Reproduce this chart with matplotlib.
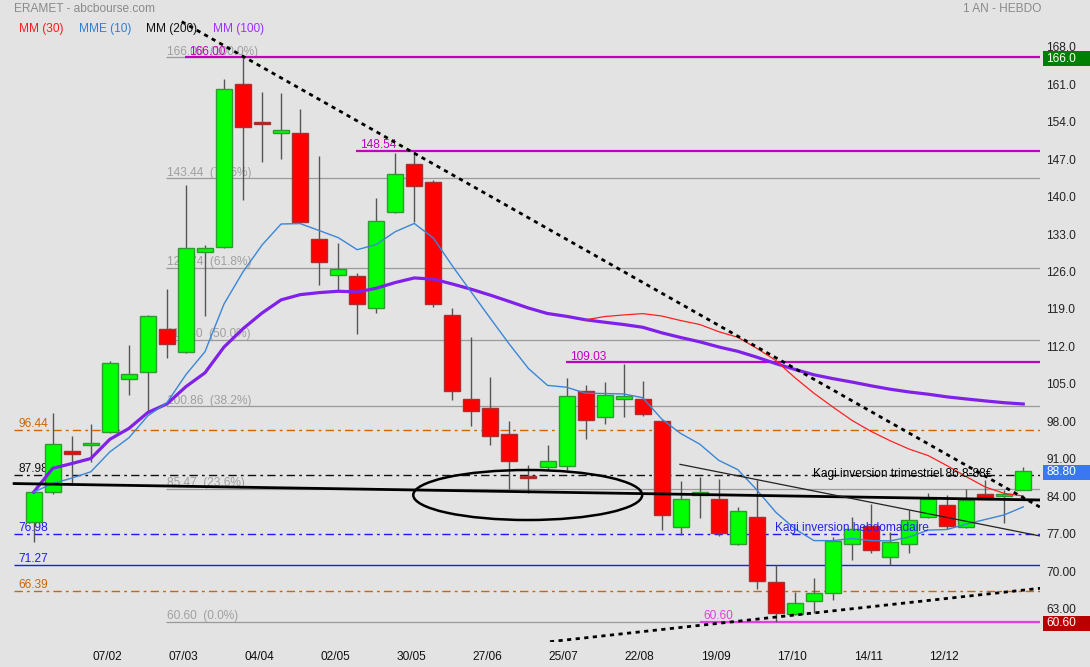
import numpy as np
import pandas as pd
import matplotlib
matplotlib.use('Agg')
import matplotlib.pyplot as plt
from matplotlib.patches import Ellipse, Rectangle
import matplotlib.transforms as mtransforms

plt.rcParams['font.family'] = ['Liberation Sans', 'DejaVu Sans']

# weekly candles, 10/01/2022 -> 09/01/2023
opens = [79.3, 84.9, 92.5, 93.6, 96.1, 106.0, 107.3, 115.3, 111.0, 129.6, 130.6, 161.1, 154.0,
         151.8, 151.8, 132.0, 125.3, 125.1, 119.1, 137.2, 146.0, 142.7, 117.8, 102.1, 100.5, 95.6,
         87.9, 89.4, 89.7, 103.6, 98.8, 102.1, 102.1, 98.1, 78.2, 84.3, 83.6, 75.2, 80.1, 68.1,
         62.0, 64.5, 65.9, 75.2, 78.5, 72.6, 75.2, 80.1, 82.4, 78.2, 84.4, 84.1, 85.2]
closes = [84.8, 93.7, 91.9, 93.9, 109.0, 106.8, 117.6, 112.5, 130.3, 130.3, 160.0, 153.0, 153.5,
          152.5, 135.3, 127.8, 126.4, 119.9, 135.4, 144.2, 141.9, 120.0, 103.6, 100.0, 95.2, 90.7,
          87.5, 90.6, 102.8, 98.3, 102.9, 102.8, 99.3, 80.5, 83.6, 84.8, 77.1, 81.2, 68.2, 62.2,
          64.0, 65.9, 75.7, 78.0, 73.9, 75.5, 79.6, 83.5, 78.4, 83.3, 83.6, 84.4, 88.8]
highs = [85.0, 99.5, 95.2, 97.6, 109.2, 112.3, 117.8, 122.7, 142.2, 131.0, 161.9, 166.0, 159.5,
         159.3, 156.3, 147.6, 131.3, 125.7, 139.7, 148.1, 148.54, 143.1, 119.1, 113.7, 106.3, 98.0,
         89.9, 93.6, 106.1, 104.8, 105.3, 108.7, 105.6, 98.3, 86.9, 87.6, 87.3, 82.0, 87.1, 71.1,
         66.2, 68.7, 76.4, 80.2, 82.6, 77.4, 81.5, 84.7, 84.3, 85.3, 87.1, 85.2, 89.4]
lows = [75.5, 84.5, 86.1, 90.5, 95.8, 102.9, 99.5, 109.9, 110.8, 117.7, 130.4, 139.4, 146.5,
        147.0, 135.1, 123.5, 122.6, 114.3, 118.2, 137.0, 135.2, 119.4, 102.0, 97.2, 93.6, 85.3,
        84.6, 88.9, 88.9, 94.8, 97.5, 98.9, 99.1, 77.7, 76.8, 80.0, 76.6, 75.0, 66.7, 60.6,
        61.9, 62.2, 64.7, 72.1, 73.4, 71.2, 73.4, 80.0, 77.9, 78.1, 83.5, 79.1, 85.2]

tick_labels = ['07/02', '07/03', '04/04', '02/05', '30/05', '27/06', '25/07', '22/08',
               '19/09', '17/10', '14/11', '12/12']
price_ticks = [168, 161, 154, 147, 140, 133, 126, 119, 112, 105, 98, 91, 84, 77, 70, 63]

# fibonacci retracement
fib_levels = [166.00, 143.44, 126.74, 113.30, 100.86, 85.47, 60.60]
fib_pcts = ['100.0%', '78.6%', '61.8%', '50.0%', '38.2%', '23.6%', '0.0%']

# support / resistance levels drawn on the chart
sr_levels = [96.44, 87.98, 76.98, 71.27, 66.39]
sr_colors = ['#cc6600', '#111111', '#1a1aff', '#1a1aff', '#cc6600']
sr_dashed = [True, True, True, False, True]

top_levels = [166.00, 148.54, 109.03, 60.60]
top_start = [7.95, 16.95, 27.97, 35.0]
top_colors = ['#c000c0', '#c000c0', '#c000c0', '#e040e0']

# hand drawn trendlines (week index, price)
trend_thick = ([-1.03, 52.88], [86.40, 83.33])
trend_thin = ([33.96, 52.88], [89.99, 76.61])
trend_down = ([7.78, 52.88], [172.65, 82.0])
trend_up = ([27.13, 52.88], [56.87, 66.84])

last_close = 88.80

n = len(closes)
x = np.arange(n)
s = pd.Series(closes)
mm30 = s.rolling(30).mean()
mme10 = s.ewm(span=10, adjust=False).mean()
mm100 = s.expanding().mean()

bg = '#e3e3e3'
fig = plt.figure(figsize=(10.9, 6.67), dpi=100, facecolor=bg)
ax = fig.add_axes([0, 25 / 667, 1040 / 1090, 642 / 667], facecolor=bg)
ax.set_xlim(-1.771, 52.88)
ax.set_ylim(56.81, 176.70)
for sp in ax.spines.values():
    sp.set_visible(False)

x0, x1 = -1.03, 52.88

# fib lines
for lv, pc in zip(fib_levels, fib_pcts):
    ax.hlines(lv, 6.95, x1, color='#9a9a9a', lw=0.9, zorder=1)
    ax.text(6.98, lv + 1.0, f'{lv:.2f}  ({pc})', color='#a0a0a0', fontsize=8.6,
            va='center', ha='left', zorder=1)

# support / resistance
for lv, c, d in zip(sr_levels, sr_colors, sr_dashed):
    ls = (0, (6, 3, 2, 3)) if d else '-'
    ax.hlines(lv, x0, x1, color=c, lw=1.0, linestyles=[ls], zorder=1)
    ax.text(-0.8, lv + 1.1, f'{lv:.2f}', color=c, fontsize=8.6, va='center', ha='left')

for lv, xs, c in zip(top_levels, top_start, top_colors):
    ax.hlines(lv, xs, x1, color=c, lw=1.6, zorder=2)
    ax.text(xs + 0.2, lv + 1.05, f'{lv:.2f}', color=c, fontsize=8.6, va='center', ha='left',
            zorder=2)

# candles
up = np.array(closes) >= np.array(opens)
ax.vlines(x, lows, highs, color='#555555', lw=1.0, zorder=3)
bottoms = np.minimum(opens, closes)
heights = np.maximum(np.abs(np.array(closes) - np.array(opens)), 0.4)
ax.bar(x[up], heights[up], bottom=bottoms[up], width=0.84, color='#00ff00',
       edgecolor='#2f9a2f', lw=1.0, zorder=3)
ax.bar(x[~up], heights[~up], bottom=bottoms[~up], width=0.84, color='#ff0000',
       edgecolor='#a83030', lw=1.0, zorder=3)

# moving averages
ax.plot(x, mm100, color='#8020e8', lw=2.3, zorder=4)
ax.plot(x, mme10, color='#3a86d8', lw=1.0, zorder=4)
ax.plot(x, mm30, color='#ff2020', lw=0.9, zorder=4)

# trendlines
ax.plot(*trend_thick, color='black', lw=2.0, zorder=5)
ax.plot(*trend_thin, color='#222222', lw=0.9, zorder=5)
ax.plot(*trend_down, color='black', lw=2.0, dashes=(1.5, 1.6), zorder=5)
ax.plot(*trend_up, color='black', lw=2.0, dashes=(1.5, 1.6), zorder=5)
ax.add_patch(Ellipse((25.96, 84.26), 12.03, 9.34, fill=False, edgecolor='black', lw=1.8,
                     zorder=5))

ax.text(40.95, 88.2, 'Kagi inversion trimestriel 86.8-88€', color='black', fontsize=8.6,
        va='center', ha='left', zorder=6)
ax.text(38.95, 78.1, 'Kagi inversion hebdomadaire', color='#2222ee', fontsize=8.6,
        va='center', ha='left', zorder=6)

# axes ticks (labels sit a touch left of the candle they mark)
ax.set_xticks(np.arange(4, 4 * len(tick_labels) + 1, 4) - 0.15)
ax.set_xticklabels(tick_labels)
ax.tick_params(axis='x', length=0, pad=6.5, labelsize=8.6, colors='#111111')
ax.yaxis.tick_right()
ax.set_yticks(price_ticks)
ax.set_yticklabels([f'{v:.1f}' if v >= 100 else f'{v:.2f}' for v in price_ticks])
ax.tick_params(axis='y', length=0, pad=4.5, labelsize=8.6, colors='#222222')

# boxed price labels on the right
trans = mtransforms.blended_transform_factory(ax.transAxes, ax.transData)
for val, txt, col in [(166.0, '166.0', '#008000'), (last_close, f'{last_close:.2f}', '#3a78f0'),
                      (60.60, '60.60', '#b80000')]:
    ax.add_patch(Rectangle((1.003, val - 0.28 - 1.4), 0.06, 2.8, transform=trans,
                           facecolor=col, edgecolor='none', clip_on=False, zorder=6))
    ax.text(1.0058, val - 0.28, txt, transform=trans, color='white', fontsize=8.6,
            va='center', ha='left', zorder=7, clip_on=False)

# header
fig.text(14 / 1090, 1 - 9 / 667, 'ERAMET - abcbourse.com', color='#8a8a8a', fontsize=8.6,
         va='center', ha='left')
fig.text(1041 / 1090, 1 - 9 / 667, '1 AN - HEBDO', color='#8a8a8a', fontsize=8.6,
         va='center', ha='right')
for xp, txt, col in [(19, 'MM (30)', '#ff1a1a'), (79, 'MME (10)', '#2f7fd6'),
                     (146, 'MM (200)', '#111111'), (213, 'MM (100)', '#9933ff')]:
    fig.text(xp / 1090, 1 - 29 / 667, txt, color=col, fontsize=8.6, va='center', ha='left')

fig.savefig('out.png', dpi=100, facecolor=bg)
